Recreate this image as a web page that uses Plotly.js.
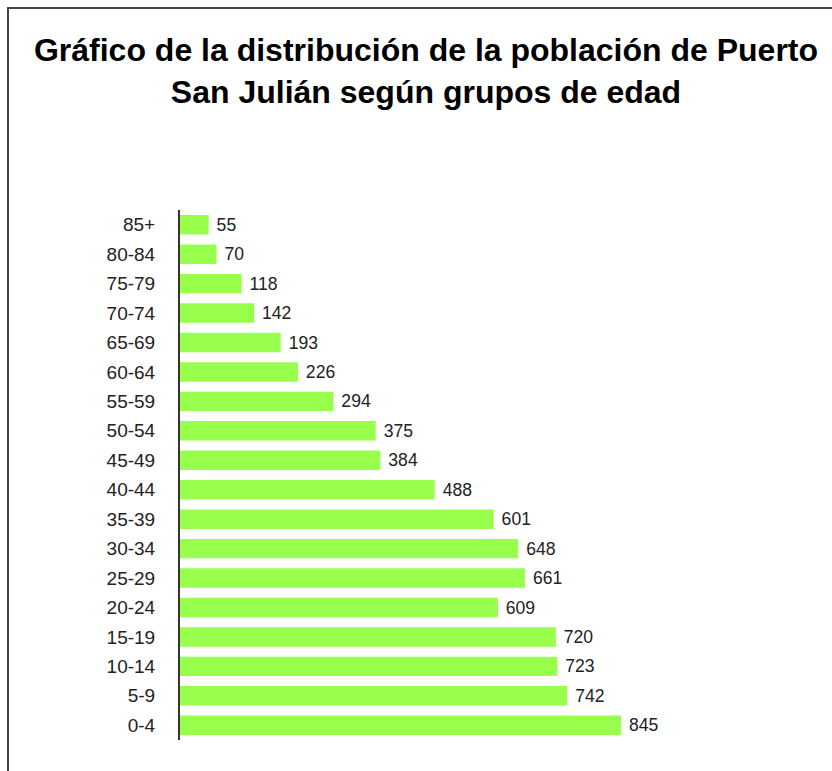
<!DOCTYPE html>
<html>
<head>
<meta charset="utf-8">
<script src="https://cdn.plot.ly/plotly-3.0.1.min.js"></script>
<style>
  html, body { margin: 0; padding: 0; background: #ffffff; }
  #wrap { position: relative; width: 832px; height: 771px; overflow: hidden; }
  #frame { position: absolute; left: 7px; top: 7px; width: 900px; height: 900px;
           border-left: 2px solid #444; border-top: 2px solid #444; pointer-events: none; z-index: 2; }
  #chart { position: absolute; left: 0; top: 0; width: 832px; height: 771px; }
</style>
</head>
<body>
<div id="wrap">
  <div id="chart"></div>
  <div id="frame"></div>
</div>
<script>
const ageGroups = ["85+", "80-84", "75-79", "70-74", "65-69", "60-64", "55-59", "50-54", "45-49",
                   "40-44", "35-39", "30-34", "25-29", "20-24", "15-19", "10-14", "5-9", "0-4"];
const population = [55, 70, 118, 142, 193, 226, 294, 375, 384, 488, 601, 648, 661, 609, 720, 723, 742, 845];
const chartTitle = "Gráfico de la distribución de la población de Puerto<br>San Julián según grupos de edad";

const trace = {
  type: "bar",
  orientation: "h",
  y: ageGroups,
  x: population,
  marker: { color: "#99FF4D", line: { width: 0 } },
  width: 0.66,
  texttemplate: "\u00a0%{x}",
  textposition: "outside",
  cliponaxis: false,
  textfont: { family: "Arial, 'Liberation Sans', sans-serif", size: 19, color: "#222222" },
  hoverinfo: "none"
};

const layout = {
  width: 832,
  height: 771,
  margin: { l: 180, r: 130, t: 210, b: 31, pad: 0 },
  paper_bgcolor: "#ffffff",
  plot_bgcolor: "#ffffff",
  showlegend: false,
  title: {
    text: chartTitle,
    font: { family: "Arial, 'Liberation Sans', sans-serif", size: 32, color: "#000000", weight: "bold" },
    xref: "container", x: 0.512, xanchor: "center",
    yref: "container", y: 0.921, yanchor: "top"
  },
  xaxis: {
    range: [0, 1000],
    showgrid: false, zeroline: false, showline: false,
    showticklabels: false, ticks: ""
  },
  yaxis: {
    type: "category",
    categoryorder: "array",
    categoryarray: ageGroups.slice().reverse(),
    autorange: false,
    range: [-0.5, ageGroups.length - 0.5],
    showgrid: false, zeroline: false,
    showline: true, linecolor: "#333333", linewidth: 2,
    ticks: "outside", ticklen: 19, tickcolor: "rgba(0,0,0,0)",
    tickfont: { family: "Arial, 'Liberation Sans', sans-serif", size: 19, color: "#222222" }
  }
};

Plotly.newPlot("chart", [trace], layout, { staticPlot: true, displayModeBar: false });
</script>
</body>
</html>
